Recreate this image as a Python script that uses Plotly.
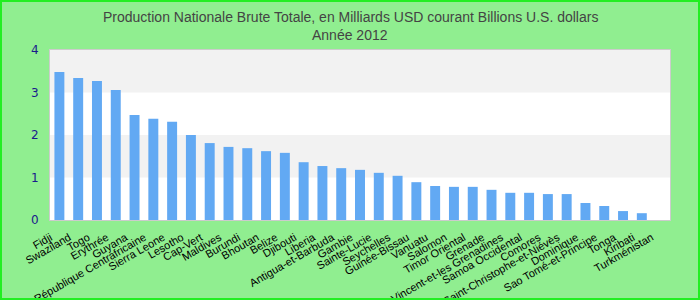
import plotly.graph_objects as go

categories = ["Fidji", "Swaziland", "Togo", "Erythrée", "Guyana", "République Centrafricaine",
              "Sierra Leone", "Lesotho", "Cap-Vert", "Maldives", "Burundi", "Bhoutan", "Belize",
              "Djibouti", "Liberia", "Antigua-et-Barbuda", "Gambie", "Sainte-Lucie", "Seychelles",
              "Guinée-Bissau", "Vanuatu", "Salomon", "Timor Oriental", "Grenade",
              "Saint-Vincent-et-les Grenadines", "Samoa Occidental", "Comores",
              "Saint-Christophe-et-Niévès", "Dominique", "Sao Tomé-et-Principe", "Tonga",
              "Kiribati", "Turkménistan"]
values = [3.48, 3.34, 3.27, 3.06, 2.47, 2.38, 2.31, 2.0, 1.81, 1.72, 1.69, 1.62, 1.58,
          1.36, 1.27, 1.22, 1.18, 1.11, 1.04, 0.89, 0.80, 0.78, 0.78, 0.71, 0.64, 0.64,
          0.61, 0.61, 0.40, 0.33, 0.21, 0.16, None]
ytick_vals = [0, 1, 2, 3, 4]
bands = [(1, 2), (3, 4)]
title_lines = ["Production Nationale Brute Totale, en Milliards USD courant Billions U.S. dollars",
               "Année 2012"]

W, H = 700, 300
L, R, T, B = 50, 30, 50, 80
pw, ph = W - L - R, H - T - B

fig = go.Figure(go.Bar(x=categories, y=values, marker=dict(color="#62a9f3", line=dict(width=0)),
                       width=0.53))

shapes = []
for y0, y1 in bands:
    shapes.append(dict(type="rect", xref="paper", yref="y", x0=0, x1=1, y0=y0, y1=y1,
                       fillcolor="#f2f2f2", line=dict(width=0), layer="below"))
# figure border
shapes.append(dict(type="rect", xref="paper", yref="paper",
                   x0=(-L + 1) / pw, x1=(pw + R - 1) / pw,
                   y0=(-B + 1) / ph, y1=(ph + T - 1) / ph,
                   line=dict(color="#22ee22", width=2), fillcolor="rgba(0,0,0,0)"))

annotations = []
for txt, py in zip(title_lines, [17, 35]):
    annotations.append(dict(text=txt, xref="paper", yref="paper",
                            x=(W / 2 - L) / pw, y=(H - B - py) / ph,
                            xanchor="center", yanchor="middle", showarrow=False,
                            font=dict(family="Liberation Sans, Arial, sans-serif",
                                      size=14, color="#444444")))

fig.update_layout(
    width=W, height=H,
    margin=dict(l=L, r=R, t=T, b=B),
    paper_bgcolor="#90ee90",
    plot_bgcolor="white",
    showlegend=False,
    shapes=shapes,
    annotations=annotations,
    xaxis=dict(tickangle=-30, tickfont=dict(family="Liberation Sans, Arial, sans-serif", size=11, color="black"),
               showline=True, mirror=True, linecolor="#cccccc", linewidth=1, showgrid=False,
               ticks="", automargin=False, ticklabelshift=-9, ticklabelstandoff=6),
    yaxis=dict(range=[0, 4], tickvals=ytick_vals, showgrid=False, zeroline=False,
               tickfont=dict(family="DejaVu Sans, sans-serif", size=12, color="#1a1a8c"),
               showline=True, mirror=True, linecolor="#cccccc", linewidth=1,
               ticks="outside", ticklen=8, tickcolor="rgba(0,0,0,0)", automargin=False),
)

fig.write_html("out.html")
